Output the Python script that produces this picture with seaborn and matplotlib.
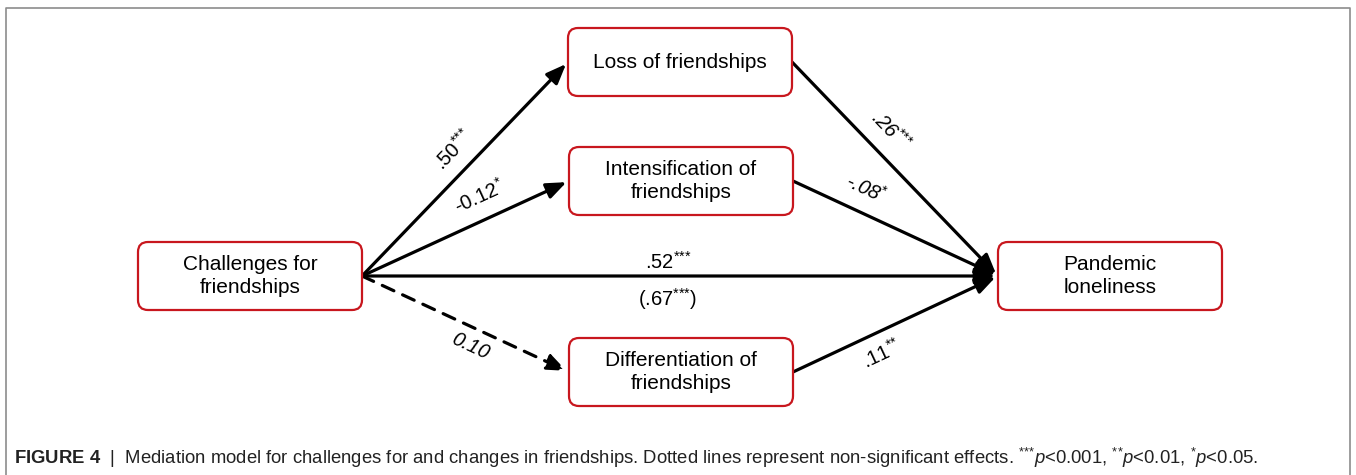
import numpy as np
import matplotlib.pyplot as plt
import seaborn as sns
from matplotlib.patches import FancyBboxPatch

# Nodes of the mediation model
nodes = ["Challenges for\nfriendships", "Loss of friendships",
         "Intensification of\nfriendships", "Differentiation of\nfriendships",
         "Pandemic\nloneliness"]

# Paths (from, to) with coefficients
edge_from = [0, 0, 0, 0, 1, 2, 3]
edge_to = [1, 2, 4, 3, 4, 4, 4]
coef_labels = [r".50$^{{*}{*}{*}}$", r"-0.12$^{*}$", r".52$^{{*}{*}{*}}$", "0.10",
               r".26$^{{*}{*}{*}}$", r"-.08$^{*}$", r".11$^{{*}{*}}$"]
significant = [True, True, True, False, True, True, True]
total_effect = r"(.67$^{{*}{*}{*}}$)"

caption = (r"$\bf{FIGURE\ 4}$  |  Mediation model for challenges for and changes in friendships. "
           r"Dotted lines represent non-significant effects. "
           r"$^{{*}{*}{*}}$$\it{p}$<0.001, $^{{*}{*}}$$\it{p}$<0.01, $^{*}$$\it{p}$<0.05.")

sns.set_theme(style="white")
plt.rcParams["font.family"] = ["Liberation Sans", "DejaVu Sans"]
plt.rcParams["text.color"] = "black"
plt.rcParams["mathtext.fontset"] = "custom"
plt.rcParams["mathtext.rm"] = "Liberation Sans"
plt.rcParams["mathtext.it"] = "Liberation Sans:italic"
plt.rcParams["mathtext.bf"] = "Liberation Sans:bold"

# layout in pixel units
centers = [(250, 276), (680, 62), (681, 181), (681, 372), (1110, 276)]
box_w, box_h = 224, 68
label_pos = [(454, 150), (479, 197), (668, 262), (470, 346),
             (891, 130), (866, 189), (882, 354)]
label_italic = [False, False, False, True, True, True, False]
red = "#C8171E"

fig = plt.figure(figsize=(13.56, 4.75), dpi=100)
ax = fig.add_axes([0, 0, 1, 1])
ax.set_xlim(0, 1356)
ax.set_ylim(475, 0)
ax.axis("off")

# outer frame
ax.plot([6, 6, 1350, 1350], [475, 8, 8, 475], color="#8c8c8c", lw=1.2)

for (cx, cy), name in zip(centers, nodes):
    box = FancyBboxPatch((cx - box_w / 2, cy - box_h / 2), box_w, box_h,
                         boxstyle="round,pad=0,rounding_size=10",
                         fc="white", ec=red, lw=1.6, zorder=3)
    ax.add_patch(box)
    ax.text(cx, cy, name, ha="center", va="center", fontsize=15,
            linespacing=1.3, zorder=4)


def port(i, side):
    cx, cy = centers[i]
    return (cx + side * box_w / 2, cy)


for k, (a, b) in enumerate(zip(edge_from, edge_to)):
    start = port(a, 1)
    end = port(b, -1)
    ls = "-" if significant[k] else (0, (4, 3))
    ax.annotate("", xy=end, xytext=start,
                arrowprops=dict(arrowstyle="-|>,head_length=1.0,head_width=0.4",
                                lw=2.3, color="black", linestyle=ls,
                                shrinkA=0, shrinkB=2), zorder=2)
    dx, dy = end[0] - start[0], end[1] - start[1]
    ang = np.degrees(np.arctan2(-dy, dx))
    lx, ly = label_pos[k]
    ax.text(lx, ly, coef_labels[k], ha="center", va="center", rotation=ang,
            rotation_mode="anchor", fontsize=14.5,
            style="italic" if label_italic[k] else "normal")

ax.text(668, 299, total_effect, ha="center", va="center", fontsize=14.5)

ax.text(14, 458, caption, ha="left", va="center", fontsize=13.3, color="#222222")

fig.savefig("out.png", dpi=100)
